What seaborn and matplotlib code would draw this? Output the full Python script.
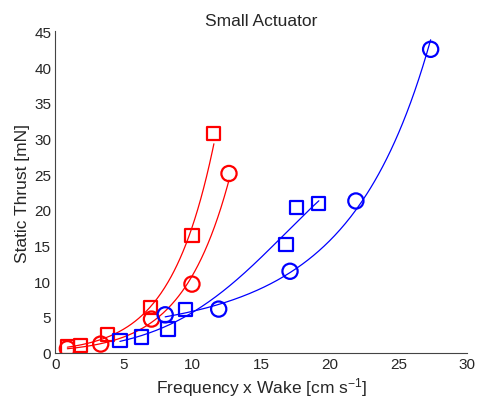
import numpy as np
import pandas as pd
import matplotlib
matplotlib.use("Agg")
import matplotlib.pyplot as plt
import seaborn as sns

# red squares
red_sq_x = [0.87, 1.85, 3.8, 6.95, 9.95, 11.55]
red_sq_y = [0.8, 0.95, 2.5, 6.3, 16.4, 30.7]
# red circles
red_ci_x = [0.87, 3.3, 7.0, 9.95, 12.65]
red_ci_y = [0.55, 1.2, 4.7, 9.6, 25.1]
# blue squares
blue_sq_x = [4.7, 6.3, 8.2, 9.5, 16.8, 17.6, 19.2]
blue_sq_y = [1.7, 2.2, 3.3, 6.1, 15.1, 20.3, 20.9]
# blue circles
blue_ci_x = [8.0, 11.9, 17.1, 21.9, 27.35]
blue_ci_y = [5.3, 6.1, 11.4, 21.25, 42.5]

x_ticks = [0, 5, 10, 15, 20, 25, 30]
y_ticks = [0, 5, 10, 15, 20, 25, 30, 35, 40, 45]

sns.set_style("white")
plt.rcParams["font.family"] = ["Liberation Sans", "DejaVu Sans"]
plt.rcParams["mathtext.fontset"] = "custom"
plt.rcParams["mathtext.rm"] = "Liberation Sans"
plt.rcParams["mathtext.it"] = "Liberation Sans"

fig = plt.figure(figsize=(4.78, 4.06), dpi=100)
ax = fig.add_axes([0.116, 0.129, 0.861, 0.791])


def fit_curve(x, y):
    """fitted trend line between first and last point"""
    coef = np.polyfit(x, np.log(y), 2)
    xs = np.linspace(min(x), max(x), 200)
    return pd.DataFrame({"x": xs, "y": np.exp(np.polyval(coef, xs))})


series = [
    (red_sq_x, red_sq_y, "red", "s", 90),
    (red_ci_x, red_ci_y, "red", "o", 120),
    (blue_sq_x, blue_sq_y, "blue", "s", 90),
    (blue_ci_x, blue_ci_y, "blue", "o", 120),
]

for xs, ys, col, mk, sz in series:
    curve = fit_curve(xs, ys)
    sns.lineplot(data=curve, x="x", y="y", color=col, lw=0.9, ax=ax)
    sns.scatterplot(x=xs, y=ys, marker=mk, s=sz, facecolors="none",
                    edgecolor=col, linewidth=1.6, ax=ax, zorder=3)

ax.set_xlim(0, 30)
ax.set_ylim(0, 45)
ax.set_xticks(x_ticks)
ax.set_yticks(y_ticks)
ax.tick_params(direction="in", length=3, labelsize=11, width=0.6, pad=3)
for side in ["top", "right"]:
    ax.spines[side].set_visible(False)
for side in ["left", "bottom"]:
    ax.spines[side].set_color("#444444")
    ax.spines[side].set_linewidth(0.8)

ax.set_title("Small Actuator", fontsize=12.5, pad=5)
ax.set_xlabel(r"Frequency x Wake [cm s$^{-1}$]", fontsize=12.5, labelpad=3)
ax.set_ylabel("Static Thrust [mN]", fontsize=12.5, labelpad=3)

fig.savefig("out.png", dpi=100)
